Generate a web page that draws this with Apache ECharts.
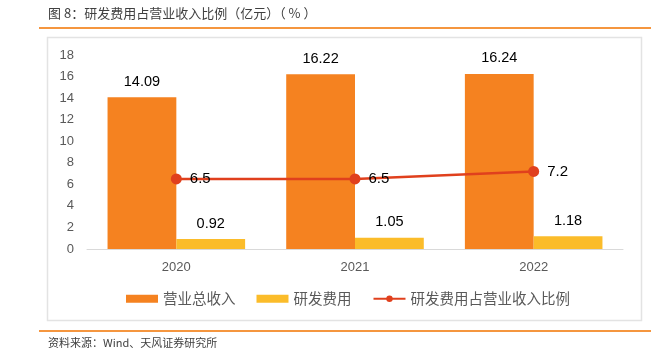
<!DOCTYPE html>
<html><head><meta charset="utf-8">
<script src="https://cdn.jsdelivr.net/npm/echarts@6/dist/echarts.min.js"></script>
<style>html,body{margin:0;padding:0;background:#fff}#c{width:668px;height:351px}</style>
</head><body><div id="c"></div>
<script>
const categories = ['2020', '2021', '2022'];
const revenue = [14.09, 16.22, 16.24];
const rdExpense = [0.92, 1.05, 1.18];
const rdRatio = [6.5, 6.5, 7.2];
const yTicks = [0, 2, 4, 6, 8, 10, 12, 14, 16, 18];

const chart = echarts.init(document.getElementById('c'));
const font = '"Noto Sans CJK SC", "Liberation Sans", sans-serif';
chart.setOption({
  animation: false,
  textStyle: { fontFamily: font },
  graphic: [
    { type: 'text', left: 48, top: 7, style: { text: '图 8：研发费用占营业收入比例（亿元）（ % ）', fontSize: 13, fill: '#404040', fontFamily: font } },
    { type: 'rect', shape: { x: 39, y: 27, width: 612, height: 2 }, style: { fill: '#F5963F' } },
    { type: 'rect', shape: { x: 47.5, y: 37.5, width: 594, height: 283 }, style: { fill: 'none', stroke: '#E3E3E3', lineWidth: 1.5 } },
    { type: 'rect', shape: { x: 39, y: 330, width: 612, height: 2 }, style: { fill: '#F5963F' } },
    { type: 'text', left: 48, top: 337, style: { text: '资料来源：Wind、天风证券研究所', fontSize: 11, fill: '#404040', fontFamily: font } }
  ],
  grid: { left: 87, right: 45, top: 55, bottom: 102 },
  legend: {
    bottom: 40, left: 121,
    itemWidth: 32, itemHeight: 8, itemGap: 21,
    textStyle: { fontSize: 14.5, color: '#595959', fontFamily: font },
    data: [
      { name: '营业总收入', icon: 'rect' },
      { name: '研发费用', icon: 'rect' },
      { name: '研发费用占营业收入比例' }
    ]
  },
  xAxis: {
    type: 'category', data: categories,
    axisLine: { lineStyle: { color: '#D9D9D9', width: 1 } },
    axisTick: { show: false },
    axisLabel: { color: '#595959', fontSize: 13, margin: 12, fontFamily: 'Liberation Sans, sans-serif' }
  },
  yAxis: {
    type: 'value', min: 0, max: 18, interval: 2,
    axisLine: { show: false }, axisTick: { show: false }, splitLine: { show: false },
    axisLabel: { color: '#595959', fontSize: 13, margin: 13, fontFamily: 'Liberation Sans, sans-serif',
      formatter: v => yTicks.includes(v) ? String(v) : '' }
  },
  series: [
    { name: '营业总收入', type: 'bar', data: revenue, barGap: '0%', barCategoryGap: '23%',
      itemStyle: { color: '#F58220' },
      label: { show: true, position: 'top', distance: 8, color: '#000', fontSize: 14.5, fontFamily: 'Liberation Sans, sans-serif' } },
    { name: '研发费用', type: 'bar', data: rdExpense,
      itemStyle: { color: '#FBBC2A' },
      label: { show: true, position: 'top', distance: 8, color: '#000', fontSize: 14.5, fontFamily: 'Liberation Sans, sans-serif' } },
    { name: '研发费用占营业收入比例', type: 'line', data: rdRatio,
      symbol: 'circle', symbolSize: 11,
      lineStyle: { color: '#E0401D', width: 2.5 },
      itemStyle: { color: '#E0401D' },
      label: { show: true, position: 'right', distance: 8, color: '#000', fontSize: 15, fontFamily: 'Liberation Sans, sans-serif' } }
  ]
});
</script></body></html>
